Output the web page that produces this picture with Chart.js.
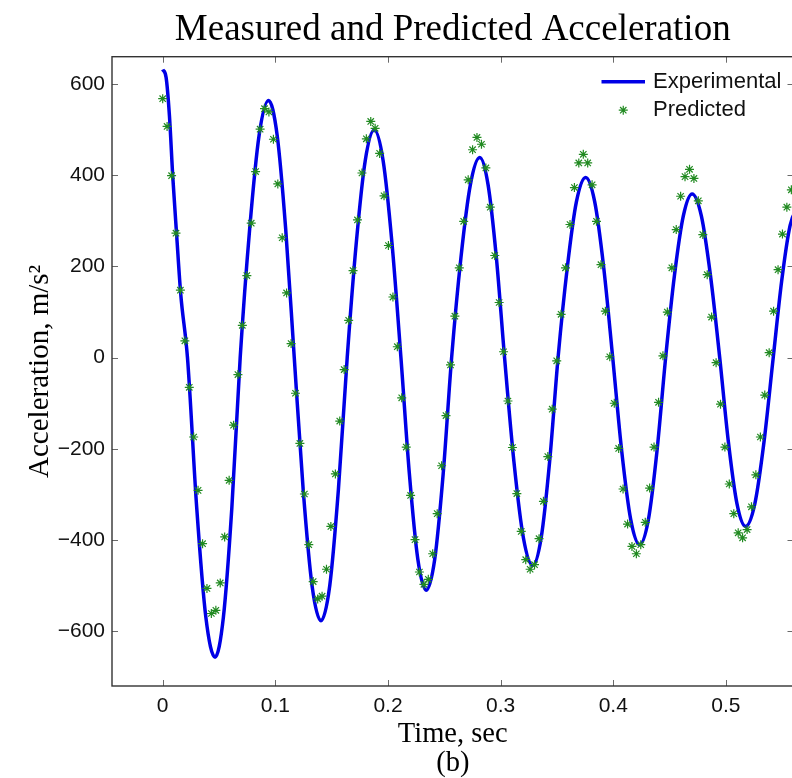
<!DOCTYPE html>
<html>
<head>
<meta charset="utf-8">
<script src="https://cdn.jsdelivr.net/npm/chart.js@4.4.1/dist/chart.umd.min.js"></script>
<style>
  html, body { margin: 0; padding: 0; background: #fff; overflow: hidden; }
  #wrap { width: 792px; height: 778px; overflow: hidden; }
</style>
</head>
<body>
<div id="wrap"><canvas id="accChart" width="800" height="778"></canvas></div>
<script>
// measured (experimental) curve
const expTime = [0, 0.003, 0.006, 0.009, 0.0125, 0.016, 0.022, 0.0302, 0.0383, 0.0465,
  0.0539, 0.0614, 0.0688, 0.0772, 0.0856, 0.094, 0.1016, 0.1092, 0.1168, 0.1247,
  0.1326, 0.1405, 0.1483, 0.156, 0.1638, 0.1718, 0.1798, 0.1878, 0.1957, 0.2036,
  0.2115, 0.219, 0.2265, 0.234, 0.2415, 0.249, 0.2565, 0.2648, 0.2732, 0.2815,
  0.2888, 0.2962, 0.3035, 0.3118, 0.3202, 0.3285, 0.336, 0.3435, 0.351, 0.3592,
  0.3673, 0.3755, 0.3835, 0.3915, 0.3995, 0.4075, 0.4155, 0.4235, 0.4312, 0.4388,
  0.4465, 0.4543, 0.4622, 0.47, 0.4782, 0.4863, 0.4945, 0.5022, 0.5098, 0.5175,
  0.5257, 0.5338, 0.542, 0.5495, 0.557, 0.5645];
const expAccel = [632, 615, 530, 395, 265, 140, 0, -329, -569, -657,
  -569, -329, 0, 282, 488, 564, 488, 282, 0, -289,
  -500, -577, -500, -289, 0, 250, 432, 499, 432, 250,
  0, -255, -442, -510, -442, -255, 0, 220, 380, 439,
  380, 220, 0, -228, -395, -456, -395, -228, 0, 198,
  342, 395, 342, 198, 0, -205, -355, -410, -355, -205,
  0, 180, 311, 359, 311, 180, 0, -185, -320, -370,
  -320, -185, 0, 168, 290, 335];

// predicted samples (asterisks)
const predTime = [0, 0.0039, 0.0079, 0.0118, 0.0157, 0.0197, 0.0236, 0.0275, 0.0314, 0.0354,
  0.0393, 0.0432, 0.0472, 0.0511, 0.055, 0.059, 0.0629, 0.0668, 0.0707, 0.0747,
  0.0786, 0.0825, 0.0865, 0.0904, 0.0943, 0.0983, 0.1022, 0.1061, 0.11, 0.114,
  0.1179, 0.1218, 0.1258, 0.1297, 0.1336, 0.1376, 0.1415, 0.1454, 0.1493, 0.1533,
  0.1572, 0.1611, 0.1651, 0.169, 0.1729, 0.1769, 0.1808, 0.1847, 0.1886, 0.1926,
  0.1965, 0.2004, 0.2044, 0.2083, 0.2122, 0.2162, 0.2201, 0.224, 0.2279, 0.2319,
  0.2358, 0.2397, 0.2437, 0.2476, 0.2515, 0.2555, 0.2594, 0.2633, 0.2672, 0.2712,
  0.2751, 0.279, 0.283, 0.2869, 0.2908, 0.2948, 0.2987, 0.3026, 0.3065, 0.3105,
  0.3144, 0.3183, 0.3223, 0.3262, 0.3301, 0.3341, 0.338, 0.3419, 0.3458, 0.3498,
  0.3537, 0.3576, 0.3616, 0.3655, 0.3694, 0.3734, 0.3773, 0.3812, 0.3851, 0.3891,
  0.393, 0.3969, 0.4009, 0.4048, 0.4087, 0.4127, 0.4166, 0.4205, 0.4244, 0.4284,
  0.4323, 0.4362, 0.4402, 0.4441, 0.448, 0.452, 0.4559, 0.4598, 0.4637, 0.4677,
  0.4716, 0.4755, 0.4795, 0.4834, 0.4873, 0.4913, 0.4952, 0.4991, 0.503, 0.507,
  0.5109, 0.5148, 0.5188, 0.5227, 0.5266, 0.5306, 0.5345, 0.5384, 0.5423, 0.5463,
  0.5502, 0.5541, 0.5581];
const predAccel = [568, 507, 399, 273, 148, 37, -65, -174, -291, -408,
  -506, -561, -554, -494, -393, -269, -148, -37, 71, 180,
  295, 408, 501, 546, 539, 479, 381, 263, 142, 31,
  -78, -188, -299, -410, -491, -529, -523, -464, -370, -255,
  -139, -26, 82, 191, 302, 405, 480, 518, 503, 448,
  355, 246, 133, 24, -88, -196, -302, -399, -470, -497,
  -486, -430, -342, -237, -127, -16, 91, 197, 299, 390,
  456, 483, 468, 416, 330, 224, 121, 13, -95, -197,
  -298, -381, -443, -464, -454, -397, -315, -217, -113, -7,
  95, 197, 292, 373, 427, 446, 427, 379, 299, 204,
  102, 2, -100, -199, -288, -365, -414, -430, -410, -361,
  -286, -196, -98, 4, 100, 197, 281, 354, 397, 413,
  393, 344, 270, 182, 89, -11, -102, -196, -277, -342,
  -384, -395, -377, -327, -257, -174, -82, 11, 102, 193,
  271, 330, 368];

const xTickValues = [0, 0.1, 0.2, 0.3, 0.4, 0.5];
const xTickLabels = ['0', '0.1', '0.2', '0.3', '0.4', '0.5'];
const yTickValues = [-600, -400, -200, 0, 200, 400, 600];
const yTickLabels = ['\u2212600', '\u2212400', '\u2212200', '0', '200', '400', '600'];

const serif = '"Liberation Serif", "Times New Roman", Times, serif';
const sans = '"Liberation Sans", Arial, Helvetica, sans-serif';

// matlab style box with inward ticks on all four sides
const axesBox = {
  id: 'axesBox',
  afterDraw(chart) {
    const { ctx, chartArea: a, scales: { x, y } } = chart;
    ctx.save();
    ctx.strokeStyle = '#6a6a6a';
    ctx.lineWidth = 1;
    ctx.beginPath();
    x.ticks.forEach(t => {
      const px = Math.round(x.getPixelForValue(t.value)) + 0.5;
      ctx.moveTo(px, a.bottom); ctx.lineTo(px, a.bottom - 6);
      ctx.moveTo(px, a.top); ctx.lineTo(px, a.top + 6);
    });
    y.ticks.forEach(t => {
      const py = Math.round(y.getPixelForValue(t.value)) + 0.5;
      ctx.moveTo(a.left, py); ctx.lineTo(a.left + 6, py);
      ctx.moveTo(a.right, py); ctx.lineTo(a.right - 6, py);
    });
    ctx.stroke();
    ctx.strokeStyle = '#333';
    ctx.lineWidth = 1.4;
    ctx.strokeRect(a.left, a.top, a.right - a.left, a.bottom - a.top);
    ctx.restore();
  }
};

// legend inside the axes, top right, no frame
const insideLegend = {
  id: 'insideLegend',
  afterDraw(chart) {
    const { ctx, chartArea: a } = chart;
    ctx.save();
    ctx.font = '22px ' + sans;
    ctx.textBaseline = 'middle';
    chart.data.datasets.forEach((ds, i) => {
      const cy = a.top + 25 + i * 28.5;
      const x0 = a.right - 192, x1 = a.right - 148.5;
      if (ds.showLine !== false) {
        ctx.strokeStyle = ds.borderColor;
        ctx.lineWidth = ds.borderWidth;
        ctx.beginPath();
        ctx.moveTo(x0, cy); ctx.lineTo(x1, cy);
        ctx.stroke();
      } else {
        ctx.strokeStyle = ds.pointBorderColor;
        ctx.fillStyle = ds.pointBorderColor;
        ctx.lineWidth = ds.pointBorderWidth;
        Chart.helpers.drawPoint(ctx, {
          pointStyle: ds.pointStyle, radius: ds.pointRadius,
          borderWidth: ds.pointBorderWidth, rotation: 0
        }, (x0 + x1) / 2, cy);
      }
      ctx.fillStyle = '#111';
      ctx.fillText(ds.label, a.right - 140.5, cy);
    });
    ctx.restore();
  }
};

const ctxAcc = document.getElementById('accChart').getContext('2d');

const accChart = new Chart(ctxAcc, {
  type: 'scatter',
  data: {
    datasets: [
      {
        label: 'Experimental',
        data: expTime.map((t, i) => ({ x: t, y: expAccel[i] })),
        showLine: true,
        borderColor: '#0000e6',
        backgroundColor: '#0000e6',
        borderWidth: 3.5,
        pointRadius: 0,
        cubicInterpolationMode: 'monotone',
        order: 2
      },
      {
        label: 'Predicted',
        data: predTime.map((t, i) => ({ x: t, y: predAccel[i] })),
        showLine: false,
        pointStyle: 'star',
        pointRadius: 4.5,
        pointBorderWidth: 1.2,
        borderColor: '#218a21',
        backgroundColor: '#218a21',
        pointBorderColor: '#218a21',
        order: 1
      }
    ]
  },
  options: {
    responsive: false,
    animation: false,
    events: [],
    layout: { padding: { right: 6.5 } },
    plugins: {
      legend: { display: false },
      tooltip: { enabled: false },
      title: {
        display: true,
        text: 'Measured and Predicted Acceleration',
        fullSize: false,
        color: '#000',
        font: { family: serif, size: 37, weight: 'normal', lineHeight: 1.2 },
        padding: { top: 8, bottom: 4.3 }
      }
    },
    scales: {
      x: {
        type: 'linear',
        min: -0.045,
        max: 0.56,
        grid: { display: false, drawTicks: false },
        border: { display: false },
        afterBuildTicks: s => { s.ticks = xTickValues.map(v => ({ value: v })); },
        afterFit: s => { s.height = 92; },
        ticks: {
          autoSkip: false,
          maxRotation: 0,
          padding: 8,
          color: '#111',
          font: { family: sans, size: 21 },
          callback: (v, i) => xTickLabels[i]
        },
        title: {
          display: true,
          text: ['Time, sec', '(b)'],
          color: '#000',
          font: { family: serif, size: 28.5, lineHeight: '29px' },
          padding: { top: 0, bottom: 0 }
        }
      },
      y: {
        type: 'linear',
        min: -720,
        max: 660,
        grid: { display: false, drawTicks: false },
        border: { display: false },
        afterBuildTicks: s => { s.ticks = yTickValues.map(v => ({ value: v })); },
        afterFit: s => { s.width = 112; },
        ticks: {
          autoSkip: false,
          padding: 7,
          color: '#111',
          font: { family: sans, size: 21 },
          callback: (v, i) => yTickLabels[i]
        },
        title: {
          display: true,
          text: 'Acceleration, m/s\u00B2',
          color: '#000',
          font: { family: serif, size: 29, lineHeight: 1.2 },
          padding: { top: 23, bottom: 0 }
        }
      }
    }
  },
  plugins: [axesBox, insideLegend]
});
</script>
</body>
</html>
